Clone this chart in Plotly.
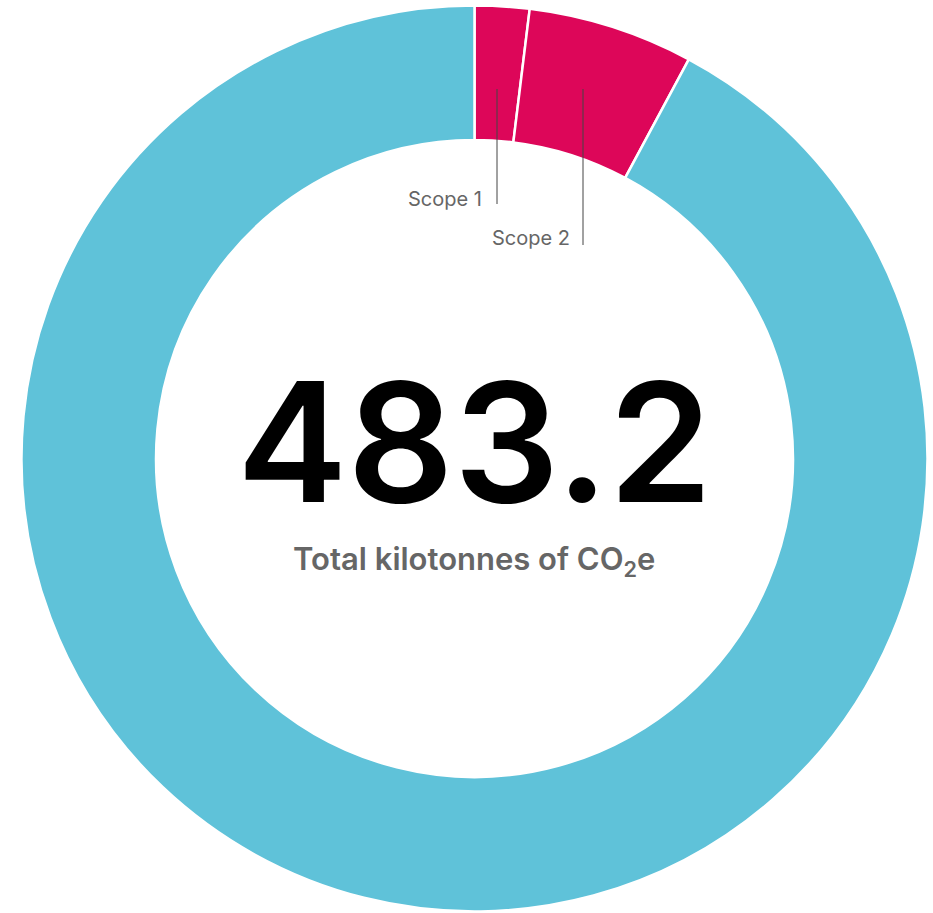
import plotly.graph_objects as go

labels = ["Scope 1", "Scope 2", "Scope 3"]
values = [9.4, 28.5, 445.3]
colors = ["#DD0659", "#DD0659", "#5FC2D9"]
total_text = "483.2"
subtitle = "Total kilotonnes of CO<sub>2</sub>e"

W, H = 933, 913
cx, cy, R = 474.5, 458.5, 453

def px(x):
    return x / W

def py(y):
    return 1 - y / H

fig = go.Figure(go.Pie(
    labels=labels,
    values=values,
    hole=0.703,
    sort=False,
    direction="clockwise",
    rotation=0,
    marker=dict(colors=colors, line=dict(color="white", width=2.5)),
    textinfo="none",
    hoverinfo="label+value",
    showlegend=False,
    domain=dict(x=[px(cx - R), px(cx + R)], y=[max(0, py(cy + R)), py(cy - R)]),
))

font_main = "Inter, 'Noto Sans', sans-serif"

annotations = [
    dict(x=px(cx), y=py(441), text=total_text, showarrow=False,
         font=dict(family=font_main, size=166, color="#000000", weight=600),
         xanchor="center", yanchor="middle"),
    dict(x=px(cx), y=py(561), text=subtitle, showarrow=False,
         font=dict(family=font_main, size=31, color="#666666", weight=600),
         xanchor="center", yanchor="middle"),
    dict(x=px(484), y=py(199), text=labels[0], showarrow=False,
         font=dict(family=font_main, size=20, color="#666666"),
         xanchor="right", yanchor="middle"),
    dict(x=px(572), y=py(238), text=labels[1], showarrow=False,
         font=dict(family=font_main, size=20, color="#666666"),
         xanchor="right", yanchor="middle"),
]

shapes = [
    dict(type="line", xref="paper", yref="paper", x0=px(497), x1=px(497),
         y0=py(89), y1=py(204), line=dict(color="#444444", width=1)),
    dict(type="line", xref="paper", yref="paper", x0=px(583), x1=px(583),
         y0=py(89), y1=py(245), line=dict(color="#444444", width=1)),
]

fig.update_layout(
    width=W, height=H,
    margin=dict(l=0, r=0, t=0, b=0),
    paper_bgcolor="white", plot_bgcolor="white",
    annotations=annotations, shapes=shapes,
)

fig.write_html("out.html", config={"displayModeBar": False},
               post_script="document.body.style.margin='0';document.body.style.overflow='hidden';")
